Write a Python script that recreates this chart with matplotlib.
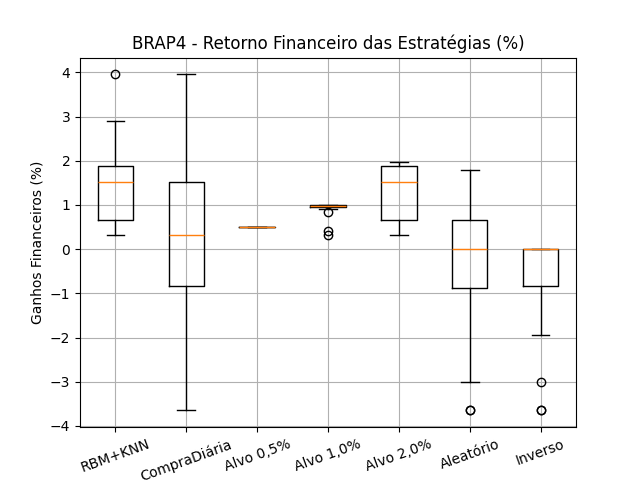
import matplotlib
matplotlib.use("Agg")
import matplotlib.pyplot as plt

# estrategias e estatisticas
labels = ["RBM+KNN", "CompraDiária", "Alvo 0,5%", "Alvo 1,0%", "Alvo 2,0%", "Aleatório", "Inverso"]
medians = [1.51, 0.31, 0.49, 0.98, 1.51, 0.0, 0.0]
q1s = [0.67, -0.84, 0.49, 0.95, 0.67, -0.87, -0.84]
q3s = [1.89, 1.51, 0.49, 1.0, 1.89, 0.67, 0.0]
whis_low = [0.31, -3.65, 0.49, 0.91, 0.31, -3.0, -1.95]
whis_high = [2.89, 3.955, 0.49, 1.0, 1.98, 1.80, 0.0]
fliers = [[3.955], [], [], [0.83, 0.41, 0.33], [], [-3.64, -3.64], [-3.0, -3.64, -3.64]]

stats = []
for i in range(len(labels)):
    stats.append({
        "label": labels[i],
        "med": medians[i],
        "q1": q1s[i],
        "q3": q3s[i],
        "whislo": whis_low[i],
        "whishi": whis_high[i],
        "fliers": fliers[i],
    })

fig, ax = plt.subplots(figsize=(6.4, 4.8), dpi=100)
ax.bxp(stats)
ax.set_title("BRAP4 - Retorno Financeiro das Estratégias (%)")
ax.set_ylabel("Ganhos Financeiros (%)")
ax.grid(True)
plt.xticks(rotation=20)
fig.savefig("out.png")
